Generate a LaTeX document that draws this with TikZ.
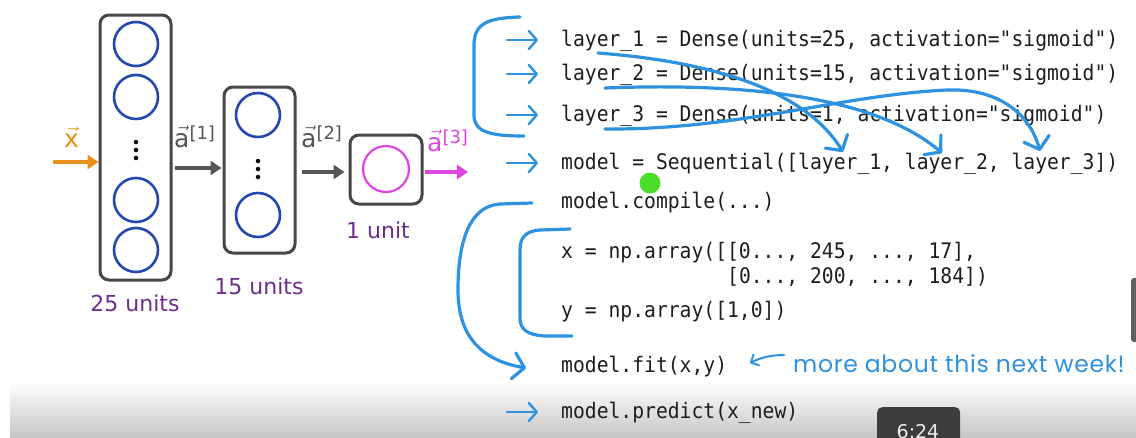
\documentclass[tikz,border=0pt]{standalone}
\usepackage{fontspec}
\usetikzlibrary{arrows.meta,calc}
\newfontfamily\codefont[FakeStretch=0.92]{DejaVu Sans Mono}
\newfontfamily\labelfont{DejaVu Sans}
\newfontfamily\handfont[LetterSpace=3]{Poppins}
\definecolor{boxgray}{HTML}{474747}
\definecolor{neuronblue}{HTML}{2448B0}
\definecolor{inputorange}{HTML}{E8911E}
\definecolor{outmagenta}{HTML}{DE45DE}
\definecolor{unitpurple}{HTML}{6E2D8C}
\definecolor{arrowgray}{HTML}{555555}
\definecolor{inkblue}{HTML}{2D92E0}
\definecolor{codeink}{HTML}{1E1E1E}
\definecolor{cursorgreen}{HTML}{4BDD2A}
\definecolor{timerbg}{HTML}{3C3C3C}
\definecolor{shadegray}{HTML}{C6C6C6}
% vector label with a bracketed layer index
\newcommand\veclbl[2]{{\fontsize{25}{28}\selectfont$\vec{\hbox{\labelfont #1}}$}\raisebox{8pt}{\labelfont\fontsize{18}{20}\selectfont #2}}
\begin{document}
\begin{tikzpicture}[x=1pt,y=-1pt,
  layerbox/.style={draw=boxgray, line width=3pt, rounded corners=9pt, minimum width=71pt, inner sep=0pt},
  neuron/.style={circle, draw=neuronblue, line width=2.6pt, minimum size=44pt, inner sep=0pt},
  vdot/.style={circle, fill=black, minimum size=4.5pt, inner sep=0pt},
  flow/.style={line width=4pt, -{Triangle[length=11pt,width=14pt]}},
  unitlbl/.style={text=unitpurple, inner sep=0pt, font=\labelfont\fontsize{22}{26}\selectfont},
  veclabel/.style={anchor=base west, inner sep=0pt},
  code/.style={anchor=base west, inner sep=0pt, text=codeink, font=\codefont\fontsize{21.4}{25}\selectfont},
  ink/.style={draw=inkblue, line width=3.2pt, line cap=round, line join=round},
  pointer/.style={ink, line width=2.4pt, -{Straight Barb[round,length=8pt,width=18pt]}},
  bigtip/.style={-{Straight Barb[round,length=11pt,width=26pt]}}]

\useasboundingbox (0,0) rectangle (1136,437);
\fill[white] (0,0) rectangle (1136,437);

% player overlay along the bottom edge
\shade[top color=white, bottom color=shadegray] (10,382) rectangle (1136,437);
\fill[gray!75!black, rounded corners=3pt] (1131,278) rectangle (1142,342);
\node[fill=timerbg, rounded corners=5pt, minimum width=83pt, minimum height=40pt, anchor=north west, inner sep=0pt] (timer) at (877,407) {};
\node[anchor=base, inner sep=0pt, text=white!85!gray, font=\labelfont\fontsize{19}{22}\selectfont] (timetxt) at (918,438) {6:24};

% ---------------- network ----------------
\node[layerbox, minimum height=265pt] (box1) at (135.5,147.5) {};
\node[neuron] (n11) at (136,44) {};
\node[neuron] (n12) at (136,97) {};
\node[vdot] (d11) at (136,142) {};
\node[vdot] (d12) at (136,150) {};
\node[vdot] (d13) at (136,158) {};
\node[neuron] (n13) at (136,200) {};
\node[neuron] (n14) at (136,250) {};

\node[layerbox, minimum height=166pt] (box2) at (259.5,170) {};
\node[neuron] (n21) at (258,115) {};
\node[vdot] (d21) at (258,161) {};
\node[vdot] (d22) at (258,169) {};
\node[vdot] (d23) at (258,177) {};
\node[neuron] (n22) at (258,215) {};

\node[layerbox, minimum width=72pt, minimum height=69pt] (box3) at (386,169.5) {};
\node[circle, draw=outmagenta, line width=2.2pt, minimum size=46pt, inner sep=0pt] (n31) at (386,169) {};

\coordinate (xin) at (53,162);
\coordinate (aout) at (468,172);
\draw[flow, draw=inputorange, fill=inputorange] (xin) -- (box1.west |- xin);
\draw[flow, draw=arrowgray, fill=arrowgray, shorten <=2pt, shorten >=1pt] (box1.east |- 0,168) -- (box2.west |- 0,168);
\draw[flow, draw=arrowgray, fill=arrowgray, shorten <=5pt, shorten >=4pt] (box2.east |- 0,172) -- (box3.west |- 0,172);
\draw[flow, draw=outmagenta, fill=outmagenta, shorten <=1pt] (box3.east |- aout) -- (aout);

\node[veclabel, text=inputorange] (xlbl) at (64,147) {\veclbl{x}{}};
\node[veclabel, text=arrowgray] (a1lbl) at (174,147) {\veclbl{a}{[1]}};
\node[veclabel, text=arrowgray] (a2lbl) at (301,147) {\veclbl{a}{[2]}};
\node[veclabel, text=outmagenta] (a3lbl) at (427,151) {\veclbl{a}{[3]}};

\node[unitlbl] (u1) at (135,303) {25 units};
\node[unitlbl] (u2) at (259,286) {15 units};
\node[unitlbl] (u3) at (378,230) {1 unit};

% ---------------- code ----------------
\node[code] (l1) at (561,46) {layer\_1 = Dense(units=25, activation="sigmoid")};
\node[code] (l2) at (561,80) {layer\_2 = Dense(units=15, activation="sigmoid")};
\node[code] (l3) at (561,121) {layer\_3 = Dense(units=1, activation="sigmoid")};
\node[code] (seq) at (561,169) {model = Sequential([layer\_1, layer\_2, layer\_3])};
\node[code] (comp) at (561,208) {model.compile(...)};
\node[code] (xa) at (561,258) {x = np.array([[0..., 245, ..., 17],};
\node[code] (xb) at (561,283) {\hphantom{x = np.array([}[0..., 200, ..., 184])};
\node[code] (ya) at (561,317) {y = np.array([1,0])};
\node[code] (fit) at (561,372) {model.fit(x,y)};
\node[code] (pred) at (561,418) {model.predict(x\_new)};

% ---------------- pen annotations ----------------
\foreach \ln in {l1,l2,l3,seq,pred}
  \draw[pointer] ($(\ln.base west)+(-54,-6)$) -- ($(\ln.base west)+(-23,-6)$);

% bracket round the three layer definitions
\draw[ink] (520,17) .. controls (490,18) and (474,22) .. (474,45) -- (474,115)
  .. controls (474,132) and (490,136) .. (524,136);
% bracket from compile down to fit
\draw[ink, bigtip] (532,203) -- (500,204) .. controls (470,206) and (458,240) .. (458,290)
  .. controls (458,335) and (480,360) .. (526,368);
% bracket round the training data
\draw[ink] (570,229) -- (540,230) .. controls (525,231) and (520,238) .. (520,250) -- (520,318)
  .. controls (520,330) and (528,335) .. (545,336) -- (572,336);

% each layer carried into the Sequential list
\coordinate (c1s) at (598,53);
\coordinate (c1e) at (843,152);
\coordinate (c2s) at (605,88);
\coordinate (c2e) at (942,153);
\coordinate (c3s) at (605,129);
\coordinate (c3m) at (947,90);
\coordinate (c3e) at (1040,151);
\draw[ink, bigtip] (c1s) .. controls (690,60) and (800,82) .. (c1e);
\draw[ink, bigtip] (c2s) .. controls (760,82) and (880,100) .. (c2e);
\draw[ink, bigtip] (c3s) .. controls (740,130) and (840,95) .. (c3m)
  .. controls (1000,88) and (1030,115) .. (c3e);

% side note next to fit
\coordinate (ns) at (784,355);
\draw[pointer, line width=2pt, -{Straight Barb[round,length=6pt,width=12pt]}] (ns) .. controls (770,355) and (760,358) .. (750,363);
\node[anchor=base west, inner sep=0pt, text=inkblue, font=\handfont\fontsize{23.5}{26}\selectfont] (note) at (793,372) {more about this next week!};

% pointer dot
\node[circle, fill=cursorgreen, minimum size=21pt, inner sep=0pt] (cursor) at (650,183) {};
\end{tikzpicture}
\end{document}
